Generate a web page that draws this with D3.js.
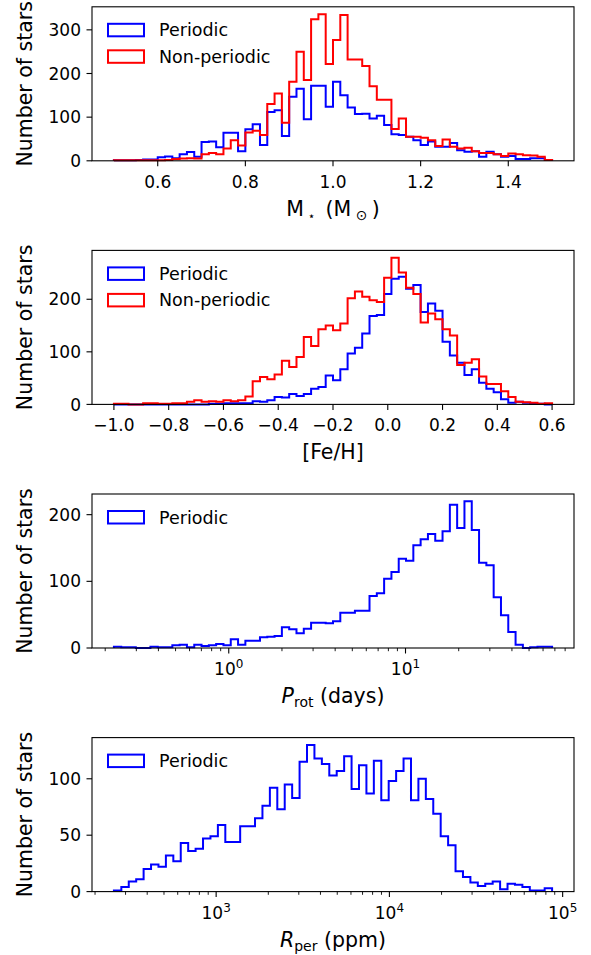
<!DOCTYPE html>
<html>
<head>
<meta charset="utf-8">
<script src="https://cdn.jsdelivr.net/npm/d3@7/dist/d3.min.js"></script>
<style>
    body { margin: 0; background: #fff; }
    text { font-family: "DejaVu Sans", sans-serif; fill: #000; white-space: pre; }
</style>
</head>
<body>
<div id="chart"></div>
<script>
// Histogram counts (60 bins per panel, 59 for R_per)
const massBinRange = [0.5, 1.5];
const massPeriodic = [1,1,1,2,3,3,8,10,6,15, 20,9,43,44,31,64,64,22,72,84,
    36,112,116,57,147,165,95,172,172,124, 181,150,122,107,108,97,103,82,61,59,
    55,47,36,44,32,32,41,24,21,22, 9,21,15,9,11,4,4,6,6,2];
const massNonPeriodic = [1,1,1,1,1,1,1,2,4,5, 6,5,15,18,15,28,47,35,65,69,
    59,130,154,87,181,250,185,324,336,222, 277,334,232,232,217,171,140,140,73,97,
    55,55,53,47,34,49,32,28,30,22, 18,18,15,11,17,15,13,12,9,2];

const fehBinRange = [-1.0, 0.6];
const fehPeriodic = [0,0,0,0,0,0,0,0,0,0, 0,0,0,1,1,2,2,2,2,6,
    5,8,14,13,20,16,20,30,33,55, 46,67,97,108,135,168,170,210,239,243,
    220,227,176,192,178,119,93,79,56,67, 41,30,23,10,3,5,3,1,1,0];
const fehNonPeriodic = [1,1,0,0,2,2,1,1,2,2, 5,8,5,6,5,8,6,8,15,44,
    52,48,57,83,71,90,128,111,143,150, 141,154,202,215,205,198,195,241,279,251,
    222,210,156,173,162,143,131,75,79,86, 53,39,39,25,14,5,4,3,1,2];

const protBinRange = [0.224, 67.5];
const protPeriodic = [2,1,1,0,0,2,1,1,4,5, 1,5,3,4,6,4,13,5,11,11,
    16,17,18,31,28,22,29,38,38,37, 40,53,53,56,56,78,82,104,114,134,
    131,154,163,171,161,175,215,180,220,177, 128,124,76,49,24,5,0,1,2,2];

const rperBinRange = [257, 86900];
const rperPeriodic = [1,4,9,11,20,24,22,32,27,43, 36,38,47,49,59,44,44,58,58,65,
    76,92,73,95,83,115,130,118,113, 103,107,120,91,112,87,116,81,98,107,
    118,81,100,82,69,49,41,18,13,8, 5,7,9,2,7,6,4,1,1,3];

// tick values
const massTicks = [0.6, 0.8, 1.0, 1.2, 1.4];
const fehTicks = [-1.0, -0.8, -0.6, -0.4, -0.2, 0.0, 0.2, 0.4, 0.6];
const protTicks = [1, 10];
const rperTicks = [1e3, 1e4, 1e5];
const massYTicks = [0, 100, 200, 300];
const fehYTicks = [0, 100, 200];
const protYTicks = [0, 100, 200];
const rperYTicks = [0, 50, 100];

const W = 591, H = 955;
const left = 92, right = 574, panelH = 154;
const tickLen = 5.5, minorLen = 3.2, tickPad = 5.5;
const labelSize = 20.5;

const svg = d3.select("#chart").append("svg")
    .attr("width", W)
    .attr("height", H);

const panels = [
    {top: 6.8, log: false, bins: massBinRange, xTicks: massTicks, yTicks: massYTicks,
     series: [{name: "Periodic", color: "#0000ff", values: massPeriodic},
              {name: "Non-periodic", color: "#ff0000", values: massNonPeriodic}],
     xlabel: "mass"},
    {top: 250.4, log: false, bins: fehBinRange, xTicks: fehTicks, yTicks: fehYTicks,
     series: [{name: "Periodic", color: "#0000ff", values: fehPeriodic},
              {name: "Non-periodic", color: "#ff0000", values: fehNonPeriodic}],
     xlabel: "feh"},
    {top: 494, log: true, bins: protBinRange, xTicks: protTicks, yTicks: protYTicks,
     series: [{name: "Periodic", color: "#0000ff", values: protPeriodic}],
     xlabel: "prot"},
    {top: 737.6, log: true, bins: rperBinRange, xTicks: rperTicks, yTicks: rperYTicks,
     series: [{name: "Periodic", color: "#0000ff", values: rperPeriodic}],
     xlabel: "rper"}
];

function binEdges(range, n, log) {
    let edges = [];
    for (let i = 0; i <= n; i++) {
        if (log) {
            let a = Math.log10(range[0]), b = Math.log10(range[1]);
            edges.push(Math.pow(10, a + (b - a) * i / n));
        } else {
            edges.push(range[0] + (range[1] - range[0]) * i / n);
        }
    }
    return edges;
}

function drawPanel(p) {
    let bottom = p.top + panelH;
    let g = svg.append("g");

    // x scale with matplotlib-like 5% margins
    let x;
    if (p.log) {
        let a = Math.log10(p.bins[0]), b = Math.log10(p.bins[1]), m = 0.05 * (b - a);
        x = d3.scaleLog().domain([Math.pow(10, a - m), Math.pow(10, b + m)]).range([left, right]);
    } else {
        let m = 0.05 * (p.bins[1] - p.bins[0]);
        x = d3.scaleLinear().domain([p.bins[0] - m, p.bins[1] + m]).range([left, right]);
    }
    let ymax = d3.max(p.series, s => d3.max(s.values)) * 1.05;
    let y = d3.scaleLinear().domain([0, ymax]).range([bottom, p.top]);

    // histograms (step)
    let line = d3.line().x(d => x(d[0])).y(d => y(d[1]));
    p.series.forEach(s => {
        let edges = binEdges(p.bins, s.values.length, p.log);
        let pts = [[edges[0], 0]];
        s.values.forEach((v, i) => {
            pts.push([edges[i], v]);
            pts.push([edges[i + 1], v]);
        });
        pts.push([edges[edges.length - 1], 0]);
        g.append("path")
            .attr("d", line(pts))
            .attr("fill", "none")
            .attr("stroke", s.color)
            .attr("stroke-width", 2)
            .attr("stroke-linejoin", "miter");
    });

    // frame
    g.append("rect")
        .attr("x", left).attr("y", p.top)
        .attr("width", right - left).attr("height", panelH)
        .attr("fill", "none").attr("stroke", "#000").attr("stroke-width", 1.1);

    // y ticks
    p.yTicks.forEach(t => {
        g.append("line")
            .attr("x1", left).attr("x2", left - tickLen)
            .attr("y1", y(t)).attr("y2", y(t))
            .attr("stroke", "#000").attr("stroke-width", 1.1);
        g.append("text")
            .attr("x", left - tickLen - tickPad)
            .attr("y", y(t))
            .attr("dy", "0.36em")
            .attr("text-anchor", "end")
            .style("font-size", "17px")
            .text(t);
    });

    // x ticks
    p.xTicks.forEach(t => {
        g.append("line")
            .attr("x1", x(t)).attr("x2", x(t))
            .attr("y1", bottom).attr("y2", bottom + tickLen)
            .attr("stroke", "#000").attr("stroke-width", 1.1);
        let lab = g.append("text")
            .attr("x", x(t))
            .attr("y", bottom + 27)
            .attr("text-anchor", "middle")
            .style("font-size", "17px");
        if (p.log) {
            lab.append("tspan").text("10");
            lab.append("tspan").attr("dy", -7).style("font-size", "12px")
                .text(Math.round(Math.log10(t)));
        } else {
            lab.text(t.toFixed(1).replace("-", "\u2212"));
        }
    });

    // minor ticks on log axes
    if (p.log) {
        let dom = x.domain();
        let lo = Math.floor(Math.log10(dom[0])), hi = Math.ceil(Math.log10(dom[1]));
        for (let e = lo; e < hi; e++) {
            for (let k = 2; k <= 9; k++) {
                let v = k * Math.pow(10, e);
                if (v < dom[0] || v > dom[1]) continue;
                g.append("line")
                    .attr("x1", x(v)).attr("x2", x(v))
                    .attr("y1", bottom).attr("y2", bottom + minorLen)
                    .attr("stroke", "#000").attr("stroke-width", 0.9);
            }
        }
    }

    // y label
    g.append("text")
        .attr("transform", `translate(32, ${p.top + panelH / 2}) rotate(-90)`)
        .attr("text-anchor", "middle")
        .style("font-size", labelSize + "px")
        .text("Number of stars");

    // x label
    let xl = g.append("text")
        .attr("x", (left + right) / 2)
        .attr("y", bottom + 55)
        .attr("text-anchor", "middle")
        .style("font-size", labelSize + "px");
    if (p.xlabel === "mass") {
        xl.append("tspan").text("M");
        xl.append("tspan").attr("dy", 4).style("font-size", "12px").text(" \u22C6 ");
        xl.append("tspan").attr("dy", -4).text(" (M");
        xl.append("tspan").attr("dy", 4).style("font-size", "14px").text(" \u2299 ");
        xl.append("tspan").attr("dy", -4).text(")");
    } else if (p.xlabel === "feh") {
        xl.text("[Fe/H]");
    } else if (p.xlabel === "prot") {
        xl.append("tspan").style("font-style", "italic").text("P");
        xl.append("tspan").attr("dy", 4).style("font-size", "14px").text("rot");
        xl.append("tspan").attr("dy", -4).text(" (days)");
    } else {
        xl.append("tspan").style("font-style", "italic").text("R");
        xl.append("tspan").attr("dy", 4).style("font-size", "14px").text("per");
        xl.append("tspan").attr("dy", -4).text(" (ppm)");
    }

    // legend
    p.series.forEach((s, i) => {
        let ly = p.top + 17 + i * 26.5;
        g.append("rect")
            .attr("x", left + 16).attr("y", ly)
            .attr("width", 36).attr("height", 12.5)
            .attr("fill", "none").attr("stroke", s.color).attr("stroke-width", 2);
        g.append("text")
            .attr("x", left + 67).attr("y", ly + 6.25)
            .attr("dy", "0.36em")
            .style("font-size", "17.5px")
            .text(s.name);
    });
}

panels.forEach(drawPanel);
</script>
</body>
</html>
